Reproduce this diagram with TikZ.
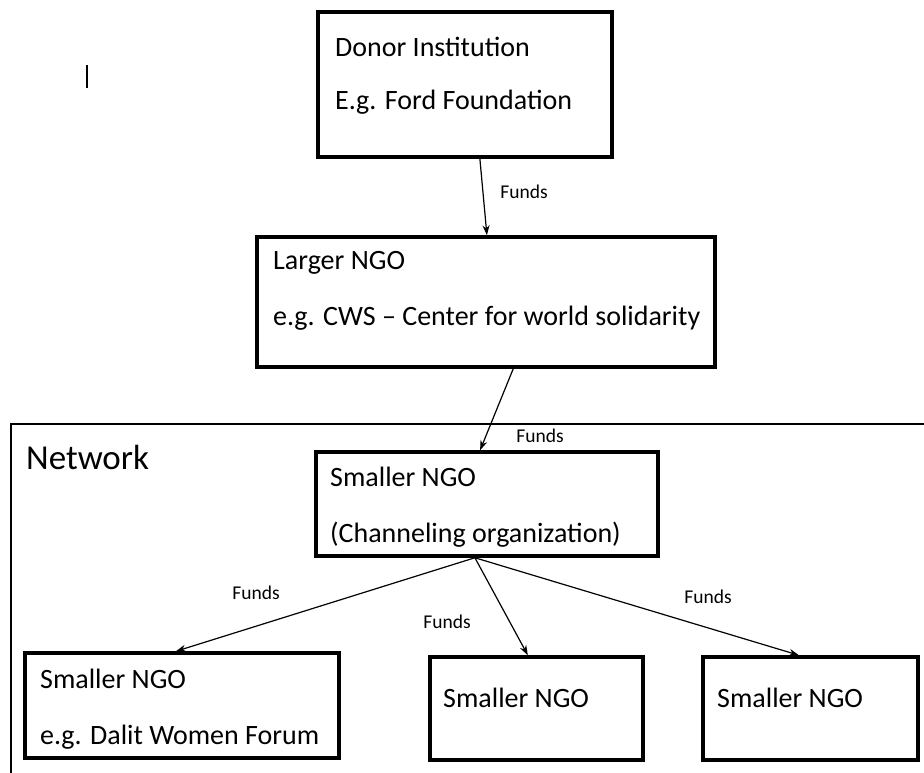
\documentclass[tikz,border=0pt]{standalone}
\usepackage{fontspec}
\setmainfont{Carlito}
\usetikzlibrary{calc,arrows.meta}
\tikzset{
  box/.style={draw=black, line width=3.5pt, rectangle, inner sep=0pt},
  txt/.style={anchor=west, inner sep=0pt, font=\fontsize{28}{32}\selectfont},
  lbl/.style={anchor=center, inner sep=0pt, font=\fontsize{19.5}{22}\selectfont},
  conn/.style={draw=black, line width=1.2pt, -{Stealth[length=10pt,width=7pt]}}
}
\begin{document}
\begin{tikzpicture}[x=1pt,y=-1pt]
\useasboundingbox (0,0) rectangle (924,773);
% network frame
\draw[line width=1.2pt] (11,773) -- (11,424) -- (924,424);
\node[anchor=west, inner sep=0pt, font=\fontsize{35}{40}\selectfont] (net) at (26,457) {Network};
% cursor mark
\draw[line width=2pt] (87,65) -- (87,88);
% boxes
\node[box, minimum width=294pt, minimum height=145pt] (donor) at (465,84.5) {};
\node[box, minimum width=458pt, minimum height=130pt] (larger) at (486,302) {};
\node[box, minimum width=342pt, minimum height=104pt] (chan) at (487,504) {};
\node[box, minimum width=314pt, minimum height=105pt] (left) at (182,705.5) {};
\node[box, minimum width=213pt, minimum height=103pt] (mid) at (536.5,708.5) {};
\node[box, minimum width=215pt, minimum height=103pt] (right) at (810.5,708.5) {};
% texts
\node[txt] (t1) at (335,47) {Donor Institution};
\node[txt] (t2) at (335,102) {E.g. Ford Foundation};
\node[txt] (t3) at (273,263) {Larger NGO};
\node[txt] (t4) at (273,318) {e.g. CWS -- Center for world solidarity};
\node[txt] (t5) at (330,477) {Smaller NGO};
\node[txt] (t6) at (330,535) {(Channeling organization)};
\node[txt] (t7) at (40,679) {Smaller NGO};
\node[txt] (t8) at (40,737) {e.g. Dalit Women Forum};
\node[txt] (t9) at (443,698) {Smaller NGO};
\node[txt] (t10) at (717,698) {Smaller NGO};
% connectors
\draw[conn] ($(donor.south west)!0.55!(donor.south east)$) -- ($(larger.north west)!0.502!(larger.north east)$);
\draw[conn] ($(larger.south west)!0.559!(larger.south east)$) -- ($(chan.north west)!0.48!(chan.north east)$);
\coordinate (cs) at ($(chan.south west)!0.465!(chan.south east)$);
\draw[conn] (cs) -- ($(left.north west)!0.481!(left.north east)$);
\draw[conn] (cs) -- ($(mid.north west)!0.46!(mid.north east)$);
\draw[conn] (cs) -- ($(right.north west)!0.447!(right.north east)$);
% labels
\node[lbl] (f1) at (524,192) {Funds};
\node[lbl] (f2) at (540,436) {Funds};
\node[lbl] (f3) at (256,593) {Funds};
\node[lbl] (f4) at (447,622) {Funds};
\node[lbl] (f5) at (708,597) {Funds};
\end{tikzpicture}
\end{document}
